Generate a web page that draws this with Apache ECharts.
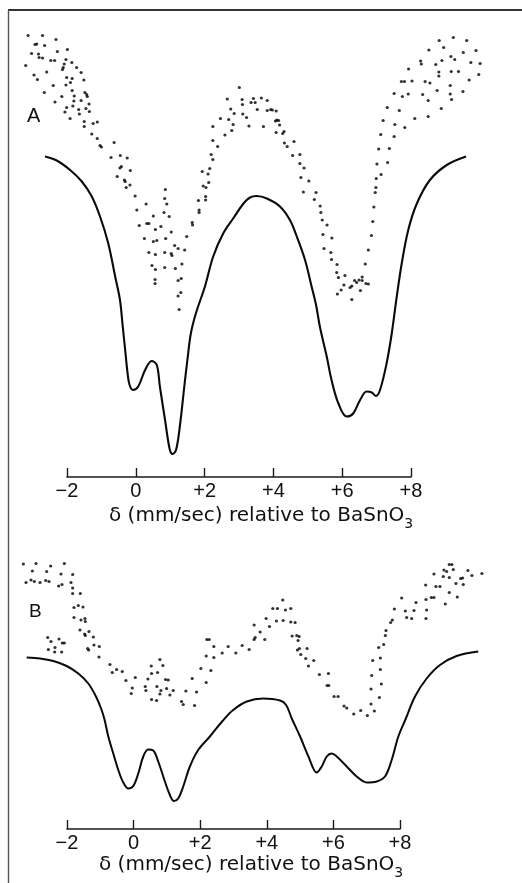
<!DOCTYPE html>
<html>
<head>
<meta charset="utf-8">
<script src="https://cdn.jsdelivr.net/npm/echarts@6/dist/echarts.min.js"></script>
<style>
html,body{margin:0;padding:0;background:#fff;}
#c{width:522px;height:883px;}
</style>
</head>
<body>
<div id="c"></div>
<script>
// x: isomer shift (mm/sec) relative to BaSnO3 ; y: relative transmission (arbitrary units)
const tickLabels = ['−2', '0', '+2', '+4', '+6', '+8'];
const axisTitle = 'δ (mm/sec) relative to BaSnO';
const axisTitleSub = '3';
const panelLabels = ['A', 'B'];

const scatterA = [
[-3.13,88.3],[-2.71,88.3],[-2.32,87.5],[-2.93,86.5],[-2.88,86.6],[-2.65,86.3],[-1.99,85.5],[-3.03,84.7],[-2.83,84.6],[-2.28,85.1],
[-2.81,83.9],[-2.71,83.8],[-2.47,83.3],[-2.36,83.3],[-2.03,83.5],[-3.20,82.3],[-2.08,82.6],[-2.11,81.9],[-2.13,81.5],[-1.86,82.9],
[-1.72,81.9],[-2.59,81.0],[-1.59,80.9],[-2.96,80.4],[-2.86,79.5],[-2.01,79.9],[-1.85,79.7],[-1.90,78.9],[-1.51,79.4],[-2.40,78.3],
[-2.03,78.4],[-1.85,77.3],[-1.48,76.9],[-1.43,76.5],[-1.41,76.1],[-2.66,76.9],[-2.15,76.1],[-1.79,76.2],[-2.35,75.0],[-1.80,75.2],
[-1.59,75.3],[-1.36,74.6],[-2.01,73.9],[-1.83,74.2],[-1.66,73.5],[-1.45,73.7],[-1.35,73.1],[-2.06,73.0],[-1.64,72.6],[-1.91,71.7],
[-1.50,71.1],[-1.24,70.7],[-1.12,71.0],[-1.50,70.1],[-1.28,68.6],[-1.12,67.7],[-0.63,66.9],[-1.04,66.3],[-1.00,66.0],[-0.72,63.9],
[-0.45,64.3],[-0.25,63.8],[-0.42,62.1],[-0.46,61.8],[-0.16,61.3],[-0.54,60.1],[-0.33,59.4],[-0.31,59.1],[-0.17,58.4],[-0.28,57.9],
[-0.02,56.2],[0.86,57.5],[0.30,54.6],[0.03,53.4],[0.84,55.7],[0.90,54.6],[0.82,52.9],[0.51,52.2],[0.97,52.1],[0.10,50.3],
[0.32,50.7],[0.38,50.7],[0.57,49.5],[0.73,50.1],[1.03,49.0],[0.25,47.7],[0.51,47.1],[0.61,47.3],[0.87,47.7],[1.13,46.3],
[1.23,45.7],[0.38,44.9],[0.57,44.5],[0.84,44.9],[1.03,44.7],[1.05,44.3],[0.47,42.3],[0.57,41.5],[0.84,41.9],[1.15,41.7],
[0.56,39.5],[0.56,38.7],[1.23,39.3],[1.23,36.2],[1.26,33.5],
[3.01,77.9],[2.66,75.6],[3.09,75.5],[3.42,75.7],[3.65,75.8],[3.82,75.3],[3.35,74.9],[3.47,74.9],[3.10,74.5],[2.76,73.6],
[3.53,73.5],[3.82,73.3],[3.92,73.5],[3.97,73.4],[4.08,73.2],[2.86,72.7],[3.11,72.6],[2.46,71.7],[2.70,71.5],[3.22,71.9],
[4.10,71.4],[4.06,71.2],[4.15,71.3],[2.83,70.5],[2.24,70.1],[3.29,70.2],[3.71,70.1],[4.18,70.4],[2.79,69.3],[2.59,68.4],
[4.08,68.9],[4.31,69.1],[4.27,68.7],[2.24,67.3],[4.60,67.1],[4.32,66.8],[4.40,66.1],[2.38,66.1],[2.19,64.5],[4.56,64.3],
[4.77,64.5],[2.24,63.5],[4.77,62.7],[4.89,61.8],[2.15,61.7],[1.93,61.1],[2.10,60.6],[4.80,59.9],[5.03,59.2],[2.12,58.9],
[1.96,58.2],[2.04,57.9],[4.87,57.0],[5.24,56.9],[2.03,56.1],[2.03,55.4],[1.82,55.3],[5.19,55.5],[5.36,54.2],[1.84,53.4],
[1.84,52.9],[5.38,52.9],[5.42,51.4],[5.56,50.4],[1.64,50.9],[1.65,50.4],[5.44,48.5],[5.70,47.8],[1.48,48.1],[5.47,45.7],
[5.67,44.9],[1.42,45.4],[5.69,43.5],[5.85,42.5],[1.34,42.6],[5.84,40.9],[5.89,39.9],[1.32,39.7],[1.31,36.9],[5.86,36.6],
[5.97,37.4],[6.05,38.4],[6.08,40.3],[6.23,37.9],[6.28,38.2],[6.28,35.5],[6.36,39.3],[6.42,38.9],[6.49,39.4],[6.53,37.3],
[6.58,40.0],[6.58,39.3],[6.69,38.7],[6.76,38.6],
[6.67,42.6],[6.76,45.4],[6.85,48.3],[6.89,51.1],[6.92,54.0],[6.96,56.9],[6.98,57.9],[6.99,59.7],[7.13,60.5],[7.01,62.6],
[7.32,62.9],[7.06,65.6],[7.37,65.7],[7.12,68.5],[7.51,68.1],[7.19,71.3],[7.53,70.5],[7.82,69.9],[8.11,71.7],[8.50,72.1],
[7.31,73.9],[7.66,73.3],[8.88,73.7],[8.50,75.3],[9.18,75.5],[9.14,76.6],[7.51,76.7],[7.75,76.1],[7.92,76.6],[8.34,76.5],
[8.76,77.3],[9.51,77.1],[9.14,78.3],[7.72,79.1],[7.81,79.1],[8.03,79.2],[8.41,79.1],[8.55,78.8],[9.69,79.4],[8.81,81.0],
[8.81,80.2],[9.17,81.1],[9.38,81.1],[9.97,80.5],[7.93,81.6],[8.28,83.2],[8.30,82.6],[8.72,82.5],[9.74,82.9],[10.01,82.7],
[8.90,83.3],[9.16,84.1],[9.27,83.5],[9.52,84.9],[8.52,85.4],[9.89,85.3],[8.95,85.9],[8.82,87.3],[9.23,87.9],[9.62,87.3]
];

const curveA = [
[-2.64,64.1],[-2.30,63.3],[-1.91,61.4],[-1.57,59.1],[-1.28,56.1],[-1.04,52.1],[-0.80,46.7],[-0.60,40.1],[-0.46,35.4],[-0.38,30.1],
[-0.30,24.8],[-0.24,20.8],[-0.18,18.4],[-0.08,17.4],[0.07,18.1],[0.27,21.4],[0.46,23.2],[0.61,22.4],[0.70,18.1],[0.85,11.4],[0.99,5.4],
[1.07,4.6],[1.17,5.4],[1.28,10.1],[1.41,18.1],[1.50,23.4],[1.60,28.7],[1.75,32.8],[2.01,38.1],[2.25,44.1],[2.54,48.7],
[2.83,51.7],[3.13,54.7],[3.32,55.9],[3.51,56.2],[3.81,55.7],[4.19,54.1],[4.48,51.4],[4.68,48.1],[4.92,43.4],[5.11,38.1],
[5.24,34.4],[5.35,30.1],[5.55,24.1],[5.69,19.4],[5.89,14.7],[6.13,12.1],[6.32,12.7],[6.52,15.4],[6.71,17.1],[6.86,16.9],
[6.98,16.2],[7.10,17.4],[7.29,22.7],[7.44,28.7],[7.58,35.8],[7.73,42.7],[7.92,49.4],[8.17,54.7],[8.55,59.4],[9.04,62.4],
[9.60,64.1]
];

const scatterB = [
[-3.31,53.0],[-2.93,53.1],[-2.49,52.6],[-2.08,53.1],[-3.04,51.6],[-2.61,51.5],[-2.18,51.0],[-1.83,50.9],[-3.23,49.3],[-3.08,49.8],
[-2.98,49.5],[-2.81,49.3],[-2.64,49.7],[-2.54,49.5],[-2.25,48.6],[-2.15,48.9],[-1.88,49.3],[-1.83,48.2],[-1.83,47.1],[-1.60,47.1],
[-1.79,44.3],[-1.66,44.7],[-1.52,44.4],[-1.79,42.3],[-1.58,41.8],[-1.46,42.1],[-1.45,41.5],[-1.61,39.8],[-1.47,39.0],[-1.45,38.7],
[-1.34,39.5],[-1.21,38.4],[-1.19,36.8],[-1.03,36.5],[-1.38,36.1],[-1.35,35.8],[-1.04,34.4],[-2.58,38.3],[-2.48,37.5],[-2.24,38.0],
[-2.14,37.2],[-2.08,37.2],[-2.36,36.3],[-2.56,35.9],[-2.16,35.4],[-2.37,35.4],[-0.71,32.9],[-0.64,31.3],[-0.51,31.9],[-0.34,31.5],
[-0.23,29.7],[0.05,30.3],[-0.04,28.2],[-0.07,27.1],[0.35,28.5],[0.37,27.7],[0.43,30.0],[0.53,32.6],[0.54,31.1],[0.72,31.3],
[0.79,33.9],[0.88,32.7],[0.70,28.5],[0.82,27.7],[0.79,27.0],[0.96,29.9],[1.04,29.8],[0.99,28.1],[0.54,25.9],[0.69,25.7],
[1.09,26.8],[1.19,27.7],
[4.48,45.8],[4.18,44.1],[4.32,44.1],[4.56,43.8],[4.72,44.1],[3.98,42.1],[4.29,41.6],[4.49,41.7],[4.72,41.4],[4.85,41.3],
[3.62,40.8],[4.08,40.5],[3.80,39.4],[3.65,38.3],[3.62,37.9],[3.94,37.9],[4.76,38.6],[4.90,38.7],[4.97,38.5],[4.94,37.7],
[2.20,37.9],[2.27,37.9],[2.41,36.5],[2.84,36.5],[3.26,36.7],[3.47,35.9],[2.66,35.2],[3.07,35.2],[4.92,35.8],[4.98,36.1],
[5.21,36.1],[5.02,34.9],[2.18,34.6],[2.41,34.3],[5.17,34.1],[5.41,33.7],[5.25,32.6],[2.02,32.1],[2.32,31.7],[5.58,30.9],
[5.85,31.1],[1.76,30.1],[2.18,29.3],[5.81,28.7],[5.86,28.7],[1.57,27.6],[1.89,27.4],[6.02,26.5],[6.14,26.5],[1.44,25.5],
[1.49,24.9],[1.83,24.7],
[9.48,52.9],[9.56,52.9],[9.32,51.8],[9.40,51.5],[9.60,51.9],[10.04,51.7],[9.02,51.0],[9.30,50.5],[9.48,50.3],[10.16,50.7],
[10.46,51.1],[9.82,50.1],[9.88,50.2],[9.68,49.1],[9.90,48.9],[8.77,48.8],[9.08,48.5],[9.20,48.5],[9.48,47.3],[8.94,46.3],
[9.02,46.3],[8.78,45.9],[9.72,46.4],[9.36,45.0],[8.05,46.2],[8.48,45.3],[7.83,44.0],[8.16,43.6],[8.42,43.7],[8.80,43.8],
[8.20,42.3],[8.35,42.1],[8.78,42.1],[7.77,41.8],[7.72,41.3],[7.58,39.7],[7.56,38.7],[7.51,36.9],[7.36,36.3],[7.41,34.2],
[7.18,33.7],[7.41,31.9],[7.15,30.7],[7.44,29.0],[7.13,28.0],[7.38,26.3],[7.13,25.0],[6.32,24.6],[6.40,24.2],[7.23,23.6],
[6.61,23.0],[6.82,23.7],[7.02,22.7]
];

const curveB = [
[-3.21,34.3],[-2.81,34.1],[-2.41,33.6],[-2.01,32.6],[-1.66,31.1],[-1.36,29.1],[-1.13,26.5],[-0.96,23.8],[-0.87,21.8],[-0.76,18.5],
[-0.61,15.1],[-0.46,11.8],[-0.31,9.3],[-0.16,8.1],[-0.01,8.6],[0.14,11.1],[0.29,14.5],[0.44,15.9],[0.59,15.7],[0.74,13.5],
[0.94,9.5],[1.09,6.8],[1.21,5.6],[1.34,6.1],[1.49,8.5],[1.69,12.5],[1.94,15.8],[2.29,18.5],[2.67,21.6],[2.99,23.8],
[3.40,25.5],[3.89,26.1],[4.40,25.7],[4.58,24.8],[4.75,22.1],[5.00,18.5],[5.25,14.5],[5.50,11.3],[5.65,12.5],[5.80,14.5],
[5.95,15.1],[6.10,14.5],[6.40,12.5],[6.70,10.5],[7.00,9.3],[7.30,9.5],[7.55,10.5],[7.75,13.8],[7.95,18.5],[8.17,22.0],
[8.45,26.5],[8.80,30.1],[9.20,32.8],[9.70,34.6],[10.35,35.5]
];

const chart = echarts.init(document.getElementById('c'), null, {renderer: 'canvas'});

const tickFont = 'Liberation Sans';
const titleFont = 'DejaVu Sans';

function dataXAxis(gridIndex) {
  return {type: 'value', gridIndex: gridIndex, min: -3.5, max: 10.5, show: false, splitLine: {show: false}};
}

function shownXAxis(gridIndex) {
  return {
    type: 'value', gridIndex: gridIndex, min: -2, max: 8, interval: 2,
    axisLine: {show: true, lineStyle: {color: '#1a1a1a', width: 1.6}},
    axisTick: {show: true, inside: true, length: 9, lineStyle: {color: '#1a1a1a', width: 1.4}},
    axisLabel: {
      margin: 4, fontSize: 20, fontFamily: tickFont, color: '#111',
      formatter: function (v) { return tickLabels[Math.round((v + 2) / 2)]; }
    },
    splitLine: {show: false}
  };
}

function titleFor(top, left) {
  return {
    text: axisTitle + '{s|' + axisTitleSub + '}',
    left: left, top: top, padding: 0,
    textStyle: {
      fontSize: 20, fontWeight: 'normal', fontFamily: titleFont, color: '#111', lineHeight: 30,
      rich: {s: {fontSize: 14, fontFamily: titleFont, color: '#111', lineHeight: 12, verticalAlign: 'bottom'}}
    }
  };
}

const option = {
  animation: false,
  backgroundColor: '#ffffff',
  title: [titleFor(501, 109), titleFor(850, 99)],
  grid: [
    {left: 15.4, top: 27, width: 481.6, height: 450},
    {left: 67, top: 27, width: 344, height: 450},
    {left: 17.05, top: 529, width: 466.2, height: 300},
    {left: 67, top: 529, width: 333, height: 300}
  ],
  xAxis: [dataXAxis(0), shownXAxis(1), dataXAxis(2), shownXAxis(3)],
  yAxis: [
    {type: 'value', gridIndex: 0, min: 0, max: 90, show: false},
    {type: 'value', gridIndex: 1, min: 0, max: 1, show: false},
    {type: 'value', gridIndex: 2, min: 0, max: 60, show: false},
    {type: 'value', gridIndex: 3, min: 0, max: 1, show: false}
  ],
  series: [
    {type: 'scatter', xAxisIndex: 0, yAxisIndex: 0, data: scatterA, symbolSize: 3.2, clip: false,
     itemStyle: {color: '#000'}},
    {type: 'line', xAxisIndex: 0, yAxisIndex: 0, data: curveA, smooth: 0.35, showSymbol: false, clip: false,
     lineStyle: {color: '#0a0a0a', width: 2.1}},
    {type: 'scatter', xAxisIndex: 2, yAxisIndex: 2, data: scatterB, symbolSize: 3.2, clip: false,
     itemStyle: {color: '#000'}},
    {type: 'line', xAxisIndex: 2, yAxisIndex: 2, data: curveB, smooth: 0.35, showSymbol: false, clip: false,
     lineStyle: {color: '#0a0a0a', width: 2.0}}
  ],
  graphic: [
    {type: 'line', shape: {x1: 8, y1: 10, x2: 522, y2: 10}, style: {stroke: '#333', lineWidth: 2}},
    {type: 'line', shape: {x1: 8.5, y1: 10, x2: 8.5, y2: 883}, style: {stroke: '#555', lineWidth: 1.4}},
    {type: 'text', x: 27, y: 116, style: {text: panelLabels[0], fontSize: 20, fontFamily: tickFont, fill: '#111', verticalAlign: 'middle'}},
    {type: 'text', x: 29, y: 612, style: {text: panelLabels[1], fontSize: 19, fontFamily: tickFont, fill: '#111', verticalAlign: 'middle'}}
  ]
};

chart.setOption(option);
</script>
</body>
</html>
